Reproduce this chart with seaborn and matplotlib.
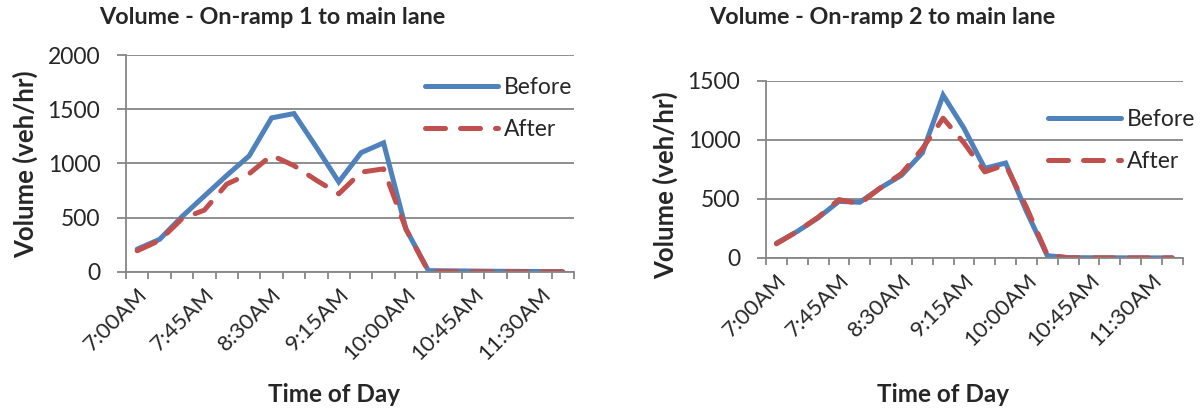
import numpy as np
import pandas as pd
import matplotlib
matplotlib.use("Agg")
import matplotlib.pyplot as plt
import seaborn as sns

# 15-minute intervals, 7:00AM to 11:45AM
time_labels = ["7:00AM", "7:15AM", "7:30AM", "7:45AM", "8:00AM", "8:15AM", "8:30AM",
               "8:45AM", "9:00AM", "9:15AM", "9:30AM", "9:45AM", "10:00AM", "10:15AM",
               "10:30AM", "10:45AM", "11:00AM", "11:15AM", "11:30AM", "11:45AM"]

ramp1_before = [210, 300, 510, 700, 890, 1070, 1420, 1460, 1150, 830,
                1100, 1190, 395, 12, 10, 8, 6, 5, 4, 3]
ramp1_after = [195, 290, 490, 570, 810, 905, 1075, 980, 845, 720,
               920, 950, 395, 5, 3, 2, 2, 1, 1, 1]

ramp2_before = [125, 225, 340, 480, 472, 595, 700, 890, 1380, 1100,
                760, 805, 395, 20, 3, 2, 2, 1, 1, 1]
ramp2_after = [120, 225, 345, 495, 460, 595, 715, 925, 1185, 975,
               730, 790, 430, 25, 2, 1, 1, 1, 1, 1]

series_names = ["Before", "After"]
titles = ["Volume - On-ramp 1 to main lane", "Volume - On-ramp 2 to main lane"]

blue = "#4F81BD"
red = "#C0504D"
grid_col = "#868686"

sns.set_theme(style="white")
plt.rcParams["font.family"] = ["Lato", "DejaVu Sans"]


def make_df(before, after):
    n = len(time_labels)
    return pd.DataFrame({
        "idx": list(range(n)) * 2,
        "Volume": before + after,
        "Series": ["Before"] * n + ["After"] * n,
    })


fig = plt.figure(figsize=(12.01, 4.12), dpi=100)
ax1 = fig.add_axes([0.1049, 0.340, 0.373, 0.5265])
ax2 = fig.add_axes([0.6378, 0.3738, 0.347, 0.4296])

setups = [
    (ax1, make_df(ramp1_before, ramp1_after), 2000, (0.354, 0.813), (272, 18),
     (-0.225, 0.498), (0.464, -0.567)),
    (ax2, make_df(ramp2_before, ramp2_after), 1500, (0.8726, 0.7354), (882, 18),
     (-0.242, 0.412), (0.424, -0.774)),
]

for i, (ax, d, ymax, leg_pos, title_pos, ylab_pos, xlab_pos) in enumerate(setups):
    sns.lineplot(data=d, x="idx", y="Volume", hue="Series", style="Series",
                 hue_order=series_names, style_order=series_names,
                 palette={"Before": blue, "After": red},
                 dashes={"Before": "", "After": (4, 3)},
                 linewidth=3.6, ax=ax)
    for ln in ax.get_lines():
        ln.set_dash_capstyle("round")
        ln.set_solid_capstyle("round")
        ln.set_solid_joinstyle("miter")

    ax.set_xlim(-0.5, len(time_labels) - 0.5)
    ax.set_ylim(0, ymax)
    ax.set_yticks(np.arange(0, ymax + 1, 500))
    ax.grid(axis="y", color=grid_col, linewidth=1.3)
    ax.set_axisbelow(True)

    ax.set_xticks(range(0, len(time_labels), 3))
    ax.set_xticklabels(time_labels[::3], rotation=45, ha="right",
                       rotation_mode="anchor")
    ax.set_xticks(np.arange(-0.5, len(time_labels), 1), minor=True)
    ax.tick_params(axis="x", which="major", length=0, pad=9, labelsize=16)
    ax.tick_params(axis="x", which="minor", length=5, width=1.3, color=grid_col,
                   bottom=True)
    ax.tick_params(axis="y", length=6.5, width=1.3, color=grid_col, left=True,
                   labelsize=16.5, pad=12)

    for s in ["top", "right"]:
        ax.spines[s].set_visible(False)
    for s in ["left", "bottom"]:
        ax.spines[s].set_color(grid_col)
        ax.spines[s].set_linewidth(1.3)

    ax.set_ylabel("Volume (veh/hr)", fontsize=18.5, fontweight="bold")
    ax.set_xlabel("Time of Day", fontsize=17.5, fontweight="bold")
    ax.yaxis.label.set_va("center")
    ax.xaxis.label.set_va("center")
    ax.yaxis.set_label_coords(*ylab_pos)
    ax.xaxis.set_label_coords(*xlab_pos)

    handles, labels = ax.get_legend_handles_labels()
    ax.legend(handles, labels, loc="upper left", bbox_to_anchor=leg_pos,
              bbox_transform=fig.transFigure, frameon=False, fontsize=16.5,
              handlelength=3.2, handletextpad=0.25, labelspacing=0.9,
              borderpad=0, borderaxespad=0)

    fig.text(title_pos[0] / 1201, 1 - title_pos[1] / 412, titles[i],
             ha="center", va="center", fontsize=16.8, fontweight="bold")

fig.savefig("out.png", dpi=100)
